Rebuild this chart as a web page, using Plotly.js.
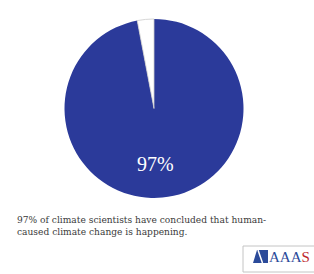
<!DOCTYPE html>
<html><head><meta charset="utf-8">
<script src="https://cdn.plot.ly/plotly-3.0.1.min.js"></script>
<style>html,body{margin:0;padding:0;background:#fff;}#chart{width:314px;height:274px;}</style>
</head><body><div id="chart"></div>
<script>
const labels = ["Human-caused climate change is happening", "Other"];
const values = [97, 3];
const colors = ["#2B3A9A", "#FFFFFF"];
const caption = ["97% of climate scientists have concluded that human-", "caused climate change is happening."];

const trace = {
  type: "pie",
  labels: labels,
  values: values,
  sort: false,
  direction: "clockwise",
  rotation: 0,
  marker: {colors: colors, line: {color: ["#2B3A9A", "#CCCCCC"], width: [0, 0.8]}},
  textinfo: "none",
  hoverinfo: "label+percent",
  showlegend: false,
  domain: {x: [63/314, 245/314], y: [1-198/274, 1-19/274]}
};

const P = (x, y) => (x/314) + "," + (1 - y/274);

const layout = {
  width: 314, height: 274,
  margin: {l: 0, r: 0, t: 0, b: 0},
  paper_bgcolor: "#fff",
  showlegend: false,
  annotations: [
    {x: 155/314, y: 1-164/274, xref: "paper", yref: "paper", showarrow: false,
     text: values[0] + "%", font: {family: "Liberation Serif, DejaVu Serif, serif", size: 20, color: "#fff"}},
    {x: 15/314, y: 1-225.5/274, xref: "paper", yref: "paper", xanchor: "left", yanchor: "middle", align: "left", showarrow: false,
     text: caption.join("<br>"), font: {family: "DejaVu Serif, serif", size: 9.1, color: "#3a3a3a"}},
    {x: 267/314, y: 1-257/274, xref: "paper", yref: "paper", xanchor: "left", yanchor: "middle", showarrow: false,
     text: "AAA<span style='color:#C0272D'>S</span>", font: {family: "Liberation Serif, serif", size: 15, color: "#2B4A9A"}}
  ],
  shapes: [
    {type: "rect", xref: "paper", yref: "paper", x0: 243/314, x1: 1.02, y0: 1-272/274, y1: 1-246/274, line: {color: "#c4c4c4", width: 1}, fillcolor: "rgba(0,0,0,0)"},
    {type: "path", xref: "paper", yref: "paper",
     path: "M " + P(253, 263) + " L " + P(257, 250) + " L " + P(268, 250) + " L " + P(268, 263) + " Z",
     fillcolor: "#2B4A9A", line: {width: 0}},
    {type: "line", xref: "paper", yref: "paper", x0: 258/314, y0: 1-250/274, x1: 262.5/314, y1: 1-263/274, line: {color: "#fff", width: 1.5}}
  ]
};

Plotly.newPlot("chart", [trace], layout, {displayModeBar: false, staticPlot: true});
</script></body></html>
